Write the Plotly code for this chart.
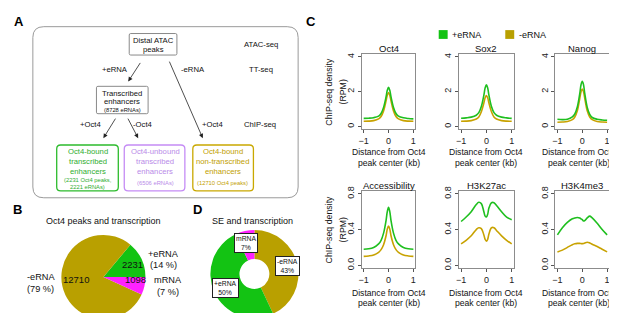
import plotly.graph_objects as go

W, H = 617, 313
FONT = "Arial, Liberation Sans, Helvetica, sans-serif"

# ---------------- data ----------------
pos_kb = [-1, -0.8, -0.6, -0.4, -0.3, -0.2, -0.1, -0.05, 0, 0.05, 0.1, 0.2, 0.3, 0.4, 0.6, 0.8, 1]

oct4_pos = [0.47, 0.48, 0.51, 0.60, 0.75, 1.10, 1.70, 2.08, 2.25, 2.08, 1.70, 1.10, 0.75, 0.60, 0.50, 0.46, 0.44]
oct4_neg = [0.30, 0.31, 0.34, 0.44, 0.58, 0.90, 1.48, 1.80, 1.95, 1.80, 1.48, 0.90, 0.58, 0.44, 0.34, 0.31, 0.30]
sox2_pos = [0.48, 0.50, 0.54, 0.65, 0.80, 1.15, 1.80, 2.22, 2.40, 2.22, 1.80, 1.15, 0.80, 0.65, 0.54, 0.50, 0.47]
sox2_neg = [0.30, 0.31, 0.34, 0.43, 0.55, 0.85, 1.35, 1.65, 1.78, 1.65, 1.35, 0.85, 0.55, 0.43, 0.34, 0.31, 0.30]
nanog_pos = [0.42, 0.40, 0.42, 0.55, 0.72, 1.12, 1.90, 2.40, 2.60, 2.40, 1.90, 1.10, 0.70, 0.52, 0.42, 0.38, 0.36]
nanog_neg = [0.25, 0.26, 0.29, 0.40, 0.55, 0.90, 1.62, 2.00, 2.15, 2.00, 1.62, 0.90, 0.55, 0.40, 0.29, 0.26, 0.25]
acc_pos = [0.18, 0.185, 0.20, 0.24, 0.28, 0.36, 0.50, 0.60, 0.65, 0.60, 0.50, 0.36, 0.28, 0.24, 0.20, 0.185, 0.18]
acc_neg = [0.10, 0.105, 0.115, 0.145, 0.175, 0.23, 0.33, 0.405, 0.44, 0.405, 0.33, 0.23, 0.175, 0.145, 0.115, 0.105, 0.10]
k27_pos = [0.49, 0.54, 0.60, 0.68, 0.705, 0.69, 0.60, 0.55, 0.54, 0.57, 0.64, 0.70, 0.70, 0.67, 0.60, 0.54, 0.51]
k27_neg = [0.24, 0.28, 0.33, 0.40, 0.42, 0.41, 0.34, 0.29, 0.27, 0.29, 0.35, 0.42, 0.42, 0.39, 0.33, 0.28, 0.24]
k4_pos = [0.34, 0.42, 0.48, 0.52, 0.53, 0.535, 0.53, 0.52, 0.51, 0.495, 0.50, 0.53, 0.55, 0.53, 0.47, 0.40, 0.34]
k4_neg = [0.15, 0.17, 0.20, 0.23, 0.24, 0.245, 0.245, 0.243, 0.242, 0.245, 0.25, 0.258, 0.25, 0.235, 0.21, 0.18, 0.15]

panel_titles = ["Oct4", "Sox2", "Nanog", "Accessibility", "H3K27ac", "H3K4me3"]
panel_pos = [oct4_pos, sox2_pos, nanog_pos, acc_pos, k27_pos, k4_pos]
panel_neg = [oct4_neg, sox2_neg, nanog_neg, acc_neg, k27_neg, k4_neg]
series_names = ["+eRNA", "-eRNA"]

x_ticks = [-1, 0, 1]
y_ticks_top = [0, 2, 4]
y_ticks_bottom = [0, 0.4, 0.8]
y_ticktext_bottom = ["0.0", "0.4", "0.8"]

pie_labels = ["+eRNA", "-eRNA", "mRNA"]
pie_values = [2231, 12710, 1098]
se_labels = ["-eRNA", "+eRNA", "mRNA"]
se_pct = [43, 50, 7]

# ---------------- styling ----------------
GREEN = "#1fbf1f"
OLIVE = "#c8a200"
PIE_GREEN = "#13c313"
PIE_OLIVE = "#b9a000"
MAGENTA = "#ff22ff"
BOX_GREEN = "#2dbb2d"
BOX_PURPLE = "#c58cf5"
BOX_OLIVE = "#c9a800"


def px(x):
    return x / W


def py(y):
    return 1 - y / H


fig = go.Figure()
annotations = []
shapes = []


def text(x, y, s, size=7.7, color="#111", **kw):
    d = dict(x=px(x), y=py(y), xref="paper", yref="paper", text=s, showarrow=False,
             xanchor="center", yanchor="middle", font=dict(size=size, color=color, family=FONT))
    d.update(kw)
    annotations.append(d)


# ---------------- Panel C: profile plots ----------------
col_px = [(353, 407), (451, 506), (548, 602)]
row_px = [(42, 119), (182, 261)]
layout_axes = {}
for i in range(6):
    r, c = divmod(i, 3)
    x0, x1 = col_px[c]
    y0, y1 = row_px[r]
    n = i + 1
    xa = "xaxis" if n == 1 else f"xaxis{n}"
    ya = "yaxis" if n == 1 else f"yaxis{n}"
    xs = "x" if n == 1 else f"x{n}"
    ys = "y" if n == 1 else f"y{n}"
    common = dict(showline=True, mirror=True, linecolor="#8c8c8c", linewidth=1,
                  ticks="outside", ticklen=3, tickwidth=1, tickcolor="#555",
                  showgrid=False, zeroline=False,
                  tickfont=dict(size=9, color="#222", family=FONT))
    layout_axes[xa] = dict(common, domain=[px(x0), px(x1)], anchor=ys,
                           range=[-1.08, 1.08], tickvals=x_ticks)
    if r == 0:
        layout_axes[ya] = dict(common, domain=[py(y1), py(y0)], anchor=xs,
                               range=[-0.16, 4.16], tickvals=y_ticks_top, tickangle=-90)
    else:
        layout_axes[ya] = dict(common, domain=[py(y1), py(y0)], anchor=xs,
                               range=[-0.032, 0.832], tickvals=y_ticks_bottom,
                               ticktext=y_ticktext_bottom, tickangle=-90)
    fig.add_trace(go.Scatter(x=pos_kb, y=panel_neg[i], mode="lines", line=dict(color=OLIVE, width=1.6, shape="spline"),
                             name=series_names[1], showlegend=False, xaxis=xs, yaxis=ys, hoverinfo="skip"))
    fig.add_trace(go.Scatter(x=pos_kb, y=panel_pos[i], mode="lines", line=dict(color=GREEN, width=1.6, shape="spline"),
                             name=series_names[0], showlegend=False, xaxis=xs, yaxis=ys, hoverinfo="skip"))
    cx = (x0 + x1) / 2
    text(cx, y0 - 6, panel_titles[i], size=9.5)
    tx = min(cx, 572)
    text(tx, y1 + 23 + r * 2, "Distance from Oct4", size=8.6)
    text(tx, y1 + 34 + r * 2, "peak center (kb)", size=8.6)

for r, (y0, y1) in enumerate(row_px):
    cy = (y0 + y1) / 2
    text(320, cy, "ChIP-seq density", size=8.8, textangle=-90)
    text(334, cy, "(RPM)", size=8.8, textangle=-90)

# legend (drawn as squares + labels)
for (sx, col, name) in [(435, PIE_GREEN, series_names[0]), (502, PIE_OLIVE, series_names[1])]:
    shapes.append(dict(type="rect", xref="paper", yref="paper", x0=px(sx - 4.5), x1=px(sx + 4.5),
                       y0=py(26.5), y1=py(17.5), fillcolor=col, line=dict(width=0)))
    text(sx + 7, 22, name, size=9, xanchor="left")

# ---------------- Panel B: pie ----------------
total = sum(pie_values)
first_angle = 360 * pie_values[0] / total
fig.add_trace(go.Pie(labels=pie_labels, values=pie_values, sort=False, direction="counterclockwise",
                     rotation=90 - first_angle, marker=dict(colors=[PIE_GREEN, PIE_OLIVE, MAGENTA], line=dict(width=0)),
                     textinfo="none", hoverinfo="label+value", showlegend=False,
                     domain=dict(x=[px(49), px(137)], y=[0, 86 / H])))
text(93, 213, "Oct4 peaks and transcription", size=9)
text(122, 257, str(pie_values[0]), size=9.5)
text(65, 273, str(pie_values[1]), size=9.5)
text(125, 273, str(pie_values[2]), size=9.5)
pct = [round(100 * v / total) for v in pie_values]
text(153, 247, pie_labels[0], size=9.2)
text(153, 258, f"({pct[0]} %)", size=9.2)
text(30, 270, pie_labels[1], size=9.2)
text(30, 282, f"({pct[1]} %)", size=9.2)
text(158, 273, pie_labels[2], size=9.2)
text(158, 285, f"({pct[2]} %)", size=9.2)

# ---------------- Panel D: donut ----------------
fig.add_trace(go.Pie(labels=se_labels, values=se_pct, sort=False, direction="clockwise", rotation=0,
                     hole=0.34, marker=dict(colors=[PIE_OLIVE, PIE_GREEN, MAGENTA], line=dict(width=0)),
                     textinfo="none", hoverinfo="label+percent", showlegend=False,
                     domain=dict(x=[px(200), px(290)], y=[1 / H, 91 / H])))
text(243, 213, "SE and transcription", size=9)
box_lbl = dict(bgcolor="white", bordercolor="#222", borderwidth=1, borderpad=1)
text(278, 259, f"{se_labels[0]}<br>{se_pct[0]}%", size=6.8, **box_lbl)
text(216, 281, f"{se_labels[1]}<br>{se_pct[1]}%", size=6.8, **box_lbl)
text(237, 235, f"{se_labels[2]}<br>{se_pct[2]}%", size=6.8, **box_lbl)

# ---------------- Panel A: flow diagram ----------------
def rrect(x0, y0, x1, y1, r, color, width=1.0):
    pts = [
        f"M {px(x0 + r)},{py(y0)}", f"L {px(x1 - r)},{py(y0)}", f"Q {px(x1)},{py(y0)} {px(x1)},{py(y0 + r)}",
        f"L {px(x1)},{py(y1 - r)}", f"Q {px(x1)},{py(y1)} {px(x1 - r)},{py(y1)}",
        f"L {px(x0 + r)},{py(y1)}", f"Q {px(x0)},{py(y1)} {px(x0)},{py(y1 - r)}",
        f"L {px(x0)},{py(y0 + r)}", f"Q {px(x0)},{py(y0)} {px(x0 + r)},{py(y0)} Z",
    ]
    shapes.append(dict(type="path", path=" ".join(pts), xref="paper", yref="paper",
                       line=dict(color=color, width=width)))


rrect(22, 14, 289, 189, 11, "#9a9a9a", 1)
rrect(119, 21, 167, 43, 1.5, "#8a8a8a", 1)
rrect(86, 75, 138, 103, 1.5, "#8a8a8a", 1)
rrect(46, 135, 108, 182, 4, BOX_GREEN, 1.3)
rrect(114, 135, 175, 182, 4, BOX_PURPLE, 1.3)
rrect(183, 135, 244, 182, 4, BOX_OLIVE, 1.3)

text(143, 28, "Distal ATAC")
text(143, 37, "peaks")
text(252, 32, "ATAC-seq")
text(105, 58, "+eRNA")
text(183, 58, "-eRNA")
text(252, 58, "TT-seq")
text(112, 82, "Transcribed")
text(112, 91, "enhancers")
text(112, 99, "(8728 eRNAs)", size=5.8)
text(80, 114, "+Oct4")
text(133, 114, "-Oct4")
text(203, 114, "+Oct4")
text(251, 114, "ChIP-seq")

for cx, col, lines, small in [
    (77, "#2fae2f", ["Oct4-bound", "transcribed", "enhancers"], ["(2231 Oct4 peaks,", "2221 eRNAs)"]),
    (145, "#b98be8", ["Oct4-unbound", "transcribed", "enhancers"], ["(6506 eRNAs)"]),
    (213, "#c2a000", ["Oct4-bound", "non-transcribed", "enhancers"], ["(12710 Oct4 peaks)"]),
]:
    for k, s in enumerate(lines):
        text(cx, 142 + 10 * k, s, color=col)
    if len(small) == 2:
        text(cx, 171, small[0], size=5.8, color=col)
        text(cx, 178, small[1], size=5.8, color=col)
    else:
        text(cx, 174, small[0], size=5.8, color=col)

for (hx, hy, tx, ty) in [(118, 70, 131, 50), (193, 128, 159, 50), (93, 128, 106, 107), (128, 128, 117, 107)]:
    annotations.append(dict(x=px(hx), y=py(hy), xref="paper", yref="paper", text="", showarrow=True,
                            ax=tx - hx, ay=ty - hy, arrowhead=2, arrowsize=1.1, arrowwidth=0.8,
                            arrowcolor="#222"))

# panel letters
for s, x, y in [("A", 8, 9), ("B", 7, 201), ("C", 302, 9), ("D", 188, 201)]:
    text(x, y, f"<b>{s}</b>", size=13, color="#000")

fig.update_layout(
    width=W, height=H, margin=dict(l=0, r=0, t=0, b=0),
    paper_bgcolor="white", plot_bgcolor="white",
    font=dict(family=FONT, size=9, color="#111"),
    annotations=annotations, shapes=shapes, showlegend=False,
    **layout_axes,
)

fig.write_html("out.html")
